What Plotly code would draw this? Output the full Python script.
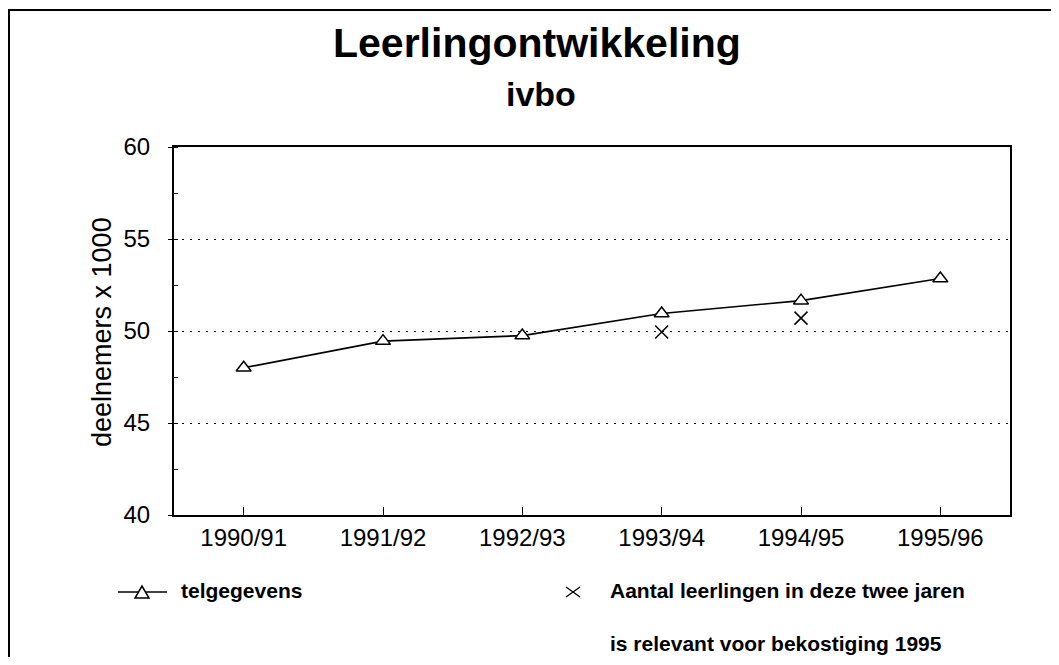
import plotly.graph_objects as go

# ---- data ----
years = ["1990/91", "1991/92", "1992/93", "1993/94", "1994/95", "1995/96"]
telgegevens = [48.0, 49.45, 49.75, 50.95, 51.65, 52.85]
bekostiging = [None, None, None, 49.95, 50.7, None]
y_ticks = [40, 45, 50, 55, 60]

title_text = "Leerlingontwikkeling"
subtitle_text = "ivbo"
y_title = "deelnemers x 1000"
legend1 = "telgegevens"
legend2a = "Aantal leerlingen in deze twee jaren"
legend2b = "is relevant voor bekostiging 1995"

# ---- layout geometry (reference pixels; page body has an 8px margin) ----
OFF = 8
W, H = 1059 - 2 * OFF, 665 - 2 * OFF
L, R, T, B = 174 - OFF, 1010 - OFF, 147 - OFF, 515 - OFF
PW, PH = R - L, B - T


def px(x):
    return (x - OFF - L) / PW


def py(y):
    return (B - (y - OFF)) / PH


FONT = "Liberation Sans, Arial, sans-serif"

fig = go.Figure()
fig.add_trace(go.Scatter(
    x=years, y=telgegevens, mode="lines+markers", name=legend1,
    line=dict(color="black", width=1.6),
    marker=dict(symbol="triangle-up", size=13, color="white",
                line=dict(color="black", width=1.5)),
    showlegend=False,
))
fig.add_trace(go.Scatter(
    x=years, y=bekostiging, mode="markers", name=legend2a,
    marker=dict(symbol="x-thin-open", size=13, color="black",
                line=dict(color="black", width=1.5)),
    showlegend=False,
))

shapes = []
annotations = []

# outer frame
shapes.append(dict(type="rect", xref="paper", yref="paper",
                   x0=px(9), x1=px(1075), y0=py(10), y1=py(690),
                   line=dict(color="black", width=2), fillcolor="rgba(0,0,0,0)",
                   layer="below"))

# titles
annotations.append(dict(text="<b>%s</b>" % title_text, xref="paper", yref="paper",
                        x=px(537), y=py(43), xanchor="center", yanchor="middle",
                        showarrow=False, font=dict(family=FONT, size=41, color="black")))
annotations.append(dict(text="<b>%s</b>" % subtitle_text, xref="paper", yref="paper",
                        x=px(541), y=py(94), xanchor="center", yanchor="middle",
                        showarrow=False, font=dict(family=FONT, size=34, color="black")))
# y title
annotations.append(dict(text=y_title, xref="paper", yref="paper",
                        x=px(102), y=py(332), xanchor="center", yanchor="middle",
                        textangle=-90, showarrow=False,
                        font=dict(family=FONT, size=27, color="black")))

# legend entry 1: line + triangle
shapes.append(dict(type="line", xref="paper", yref="paper",
                   x0=px(118), x1=px(167), y0=py(592), y1=py(592),
                   line=dict(color="black", width=1.5)))
shapes.append(dict(type="path", xref="paper", yref="paper",
                   path="M %f,%f L %f,%f L %f,%f Z" % (
                       px(135), py(598), px(149), py(598), px(142), py(586)),
                   line=dict(color="black", width=1.5), fillcolor="white"))
annotations.append(dict(text="<b>%s</b>" % legend1, xref="paper", yref="paper",
                        x=px(179), y=py(590), xanchor="left", yanchor="middle",
                        showarrow=False, font=dict(family=FONT, size=21, color="black")))
# legend entry 2: x marker + two lines
shapes.append(dict(type="line", xref="paper", yref="paper",
                   x0=px(566), x1=px(580), y0=py(587), y1=py(597),
                   line=dict(color="black", width=1.3)))
shapes.append(dict(type="line", xref="paper", yref="paper",
                   x0=px(566), x1=px(580), y0=py(597), y1=py(587),
                   line=dict(color="black", width=1.3)))
annotations.append(dict(text="<b>%s</b>" % legend2a, xref="paper", yref="paper",
                        x=px(608), y=py(590), xanchor="left", yanchor="middle",
                        showarrow=False, font=dict(family=FONT, size=21, color="black")))
annotations.append(dict(text="<b>%s</b>" % legend2b, xref="paper", yref="paper",
                        x=px(608), y=py(643), xanchor="left", yanchor="middle",
                        showarrow=False, font=dict(family=FONT, size=21, color="black")))

fig.update_layout(
    width=W, height=H,
    margin=dict(l=L, r=W - R, t=T, b=H - B, pad=0),
    paper_bgcolor="white", plot_bgcolor="white",
    font=dict(family=FONT, color="black"),
    shapes=shapes, annotations=annotations,
    showlegend=False,
)
fig.update_xaxes(
    type="category", range=[-0.5, 5.5],
    showline=True, linecolor="black", linewidth=2, mirror=True,
    showgrid=False, zeroline=False,
    ticks="inside", ticklen=8, tickcolor="black", tickwidth=1,
    tickfont=dict(family=FONT, size=24, color="black"),
    ticklabelstandoff=0,
)
fig.update_yaxes(
    range=[40, 60], tickvals=y_ticks,
    showline=True, linecolor="black", linewidth=2, mirror=True,
    showgrid=True, gridcolor="black", gridwidth=1, griddash="2px,6px",
    zeroline=False,
    ticks="outside", ticklen=4, tickcolor="black", tickwidth=1,
    minor=dict(ticks="inside", ticklen=4, dtick=2.5, tick0=40, tickcolor="black", showgrid=False),
    tickfont=dict(family=FONT, size=24, color="black"),
    ticklabelstandoff=13,
)

fig.write_html("out.html")
